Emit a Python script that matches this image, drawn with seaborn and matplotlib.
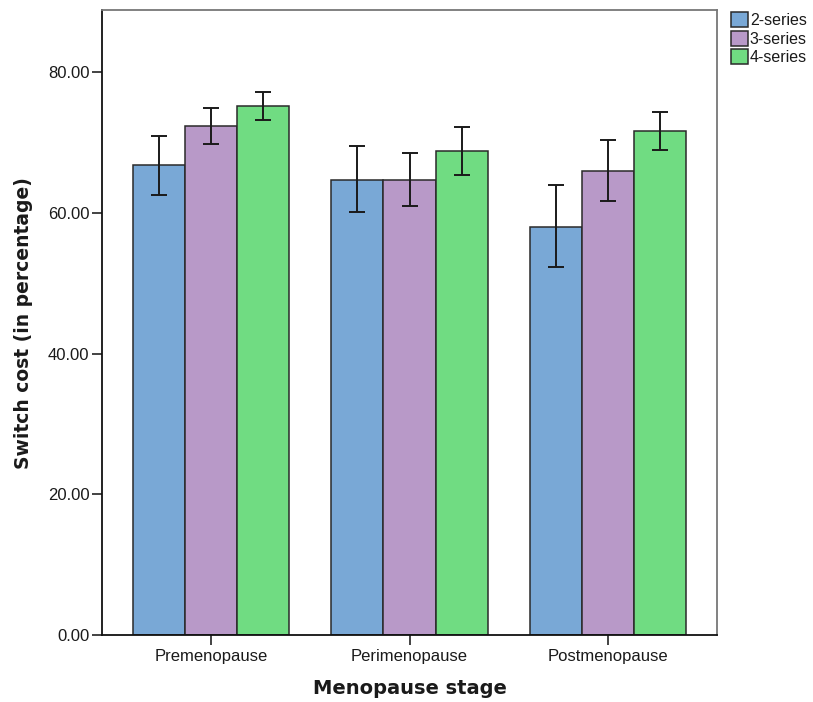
import numpy as np
import pandas as pd
import matplotlib
matplotlib.use("Agg")
import matplotlib.pyplot as plt
import seaborn as sns

stages = ["Premenopause", "Perimenopause", "Postmenopause"]
series = ["2-series", "3-series", "4-series"]
mean_2 = [66.8, 64.7, 58.0]
mean_3 = [72.3, 64.7, 66.0]
mean_4 = [75.1, 68.75, 71.6]
lo_2 = [62.5, 60.1, 52.3]
hi_2 = [70.9, 69.5, 63.9]
lo_3 = [69.8, 61.0, 61.7]
hi_3 = [74.9, 68.5, 70.3]
lo_4 = [73.2, 65.3, 68.9]
hi_4 = [77.1, 72.2, 74.3]
yticks = [0, 20, 40, 60, 80]

colors = ["#79a8d6", "#b899c8", "#70dc82"]

rows = []
for s, m, lo, hi in zip(series, [mean_2, mean_3, mean_4], [lo_2, lo_3, lo_4], [hi_2, hi_3, hi_4]):
    for st, mv, l, h in zip(stages, m, lo, hi):
        rows.append({"stage": st, "series": s, "value": mv, "lo": l, "hi": h})
df = pd.DataFrame(rows)

sns.set_style("white")
plt.rcParams["font.family"] = ["Liberation Sans", "DejaVu Sans"]

fig = plt.figure(figsize=(8.13, 7.02), dpi=100)
ax = fig.add_axes([102 / 813, (702 - 635.3) / 702, (717 - 102) / 813, (635.3 - 10) / 702])

sns.barplot(data=df, x="stage", y="value", hue="series", order=stages, hue_order=series,
            palette=colors, errorbar=None, width=0.79, edgecolor="#2a2a2a", linewidth=1.1,
            saturation=1, ax=ax)

# error bars at bar centres
for cont, s in zip(ax.containers, series):
    sub = df[df["series"] == s].set_index("stage").loc[stages]
    xs = [p.get_x() + p.get_width() / 2 for p in cont.patches]
    ys = sub["value"].values
    yerr = np.vstack([ys - sub["lo"].values, sub["hi"].values - ys])
    ax.errorbar(xs, ys, yerr=yerr, fmt="none", ecolor="#1a1a1a", elinewidth=1.4,
                capsize=6, capthick=1.4, zorder=5)

txt = "#1a1a1a"
ax.set_xlim(-0.55, 2.55)
ax.set_ylim(0, 88.8)
ax.set_yticks(yticks)
ax.set_yticklabels([f"{v:.2f}" for v in yticks], fontsize=12, color=txt)
ax.set_xticks(range(len(stages)))
ax.set_xticklabels(stages, fontsize=12, color=txt)
ax.tick_params(axis="both", direction="out", length=7, width=1.2, color="#222222", left=True, bottom=True)
ax.tick_params(axis="x", pad=3)
ax.tick_params(axis="y", pad=2)

for side in ["left", "bottom"]:
    ax.spines[side].set_color("#111111")
    ax.spines[side].set_linewidth(1.3)
for side in ["top", "right"]:
    ax.spines[side].set_color("#777777")
    ax.spines[side].set_linewidth(1.3)

ax.set_xlabel("Menopause stage", fontsize=14, fontweight="bold", family="DejaVu Sans", labelpad=11, color=txt)
ax.set_ylabel("Switch cost (in percentage)", fontsize=13.5, fontweight="bold", family="DejaVu Sans", labelpad=11, color=txt)

handles, labels = ax.get_legend_handles_labels()
leg = ax.legend(handles, labels, loc="upper left", bbox_to_anchor=(1.012, 1.007), frameon=False,
                fontsize=11.5, handlelength=1.05, handleheight=1.1, handletextpad=0.15, labelspacing=0.15,
                borderaxespad=0.0)
for t in leg.get_texts():
    t.set_color(txt)

fig.savefig("out.png", dpi=100)
